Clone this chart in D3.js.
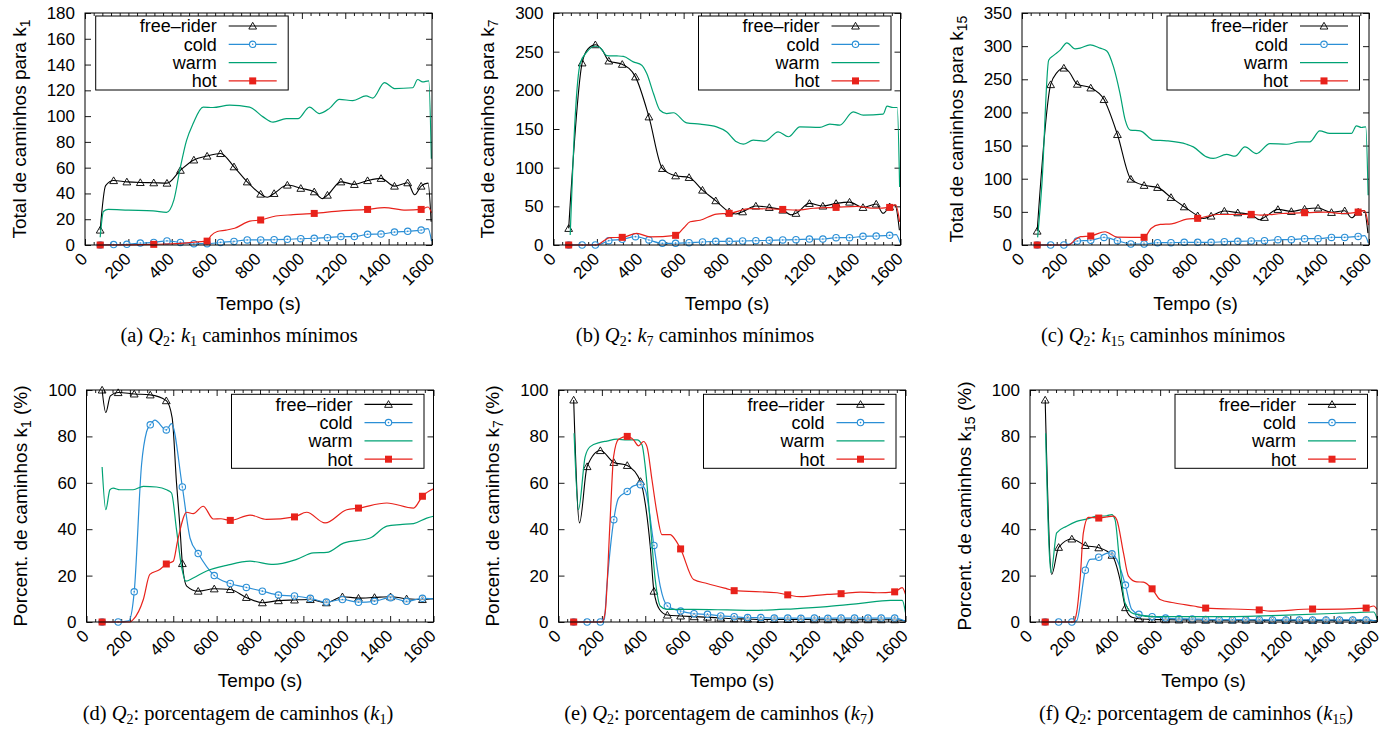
<!DOCTYPE html>
<html><head><meta charset="utf-8">
<script src="https://cdn.jsdelivr.net/npm/d3@7"></script>
<style>body{margin:0;background:#fff} svg{display:block}</style>
</head><body>
<svg id="c" width="1390" height="730"></svg>
<script>
// ---------- categories / ticks ----------
const seriesNames = ["free–rider", "cold", "warm", "hot"];
const xTicks = [0, 200, 400, 600, 800, 1000, 1200, 1400, 1600];
const markT25 = [70,132,193,255,317,378,440,502,563,625,687,748,810,872,933,995,1057,1118,1180,1242,1303,1365,1427,1488,1550];
const hotT25 = [70,317,563,810,1057,1303,1550];
const markT21 = [72,146,220,294,368,442,515,589,663,737,811,885,959,1032,1106,1180,1254,1328,1402,1476,1549];
const hotT21 = [72,368,663,959,1254,1549];

// ---------- (a) total k1 ----------
const aFree = [11.6,50,49,48.5,48.3,48,58,66,69,71,60.7,49,39.5,40,46.5,44,41.3,38.7,49,47,50,51.7,45.7,48.3,45.7];
const aFreeX = [[95,46],[840,37],[1095,36],[1520,39],[1582,48],[1596,18]];
const aCold = [0,0.3,0.5,1.5,2,3.2,2,1,1,2,2.8,3.9,3.9,4.1,4.4,4.9,5.2,5.7,6.5,6.5,8.3,8.5,10,10.6,11.6];
const aColdX = [[1582,12.7],[1598,3]];
const aWarm = [[70,6],[85,26],[107,27.6],[200,27],[314,26.5],[376,25.3],[410,35],[437,58],[468,81],[498,94],[545,107],[590,106.7],[667,108.5],[759,107],[821,99.4],[867,95.3],[928,98],[982,98],[1035,107],[1081,102],[1127,106],[1173,113],[1235,112],[1296,115.7],[1327,114],[1381,126],[1427,121.4],[1511,122],[1534,128.4],[1557,126.5],[1585,127.3],[1597,67]];
const aHot = [0,0.5,3,19.4,24.5,27.6,27.6];
const aHotX = [[440,1.2],[520,2.5],[580,7],[610,10.5],[650,11.5],[690,13],[760,18.5],[880,22.5],[960,23.5],[1180,26.5],[1380,29],[1480,27],[1582,29.5],[1598,25]];

// ---------- (b) total k7 ----------
const bFree = [21.5,235.5,259,238,233.7,217.4,165.7,99,89.5,87.4,71,57.3,43,43,50.4,48.6,45.2,41,53.8,50.4,53.8,55.5,48.6,53,49.5];
const bFreeX = [[160,254],[225,252],[840,40],[1095,39],[1520,41],[1575,51.6],[1595,19]];
const bCold = [0,0,0,5.6,7.3,10.8,6.5,2.2,2.2,3,3.9,4.7,4.7,5.2,5.6,6,6.5,6.9,7.7,7.7,9.5,9.5,11.2,11.6,12.5];
const bColdX = [[215,1],[1580,13.5],[1598,3]];
const bWarm = [[77,13],[100,166],[123,234.6],[154,249.7],[192,257],[215,255],[246,245],[292,244.5],[322,244],[368,236.8],[407,232.5],[430,221.7],[461,195.9],[491,174.3],[522,170],[553,171],[614,158],[676,156.3],[752,152.8],[798,146.4],[844,133.4],[875,130.4],[921,135.6],[975,134.3],[1036,146.4],[1083,140],[1136,152.8],[1228,152],[1274,156.3],[1320,155],[1382,172.2],[1428,168],[1520,169.2],[1538,179.5],[1566,177.8],[1585,177.8],[1596,75]];
const bHot = [0,9.9,12.5,40.9,46,48.6,48.6];
const bHotX = [[200,0],[230,5],[260,9.5],[384,15],[445,10.5],[600,22],[630,30],[676,32],[752,40],[906,47],[1120,45],[1200,47.5],[1397,50],[1480,47.5],[1578,52],[1596,30]];

// ---------- (c) total k15 ----------
const cFree = [21,242,267,242.6,237,219.5,166.7,99.4,90,86.9,71.8,57.7,44.2,43.7,51.2,48.7,45.7,41.7,53.7,50.7,54.2,55.8,49.2,51.7,49.7];
const cFreeX = [[161,260],[215,262],[835,40],[1095,38],[1520,41],[1578,52],[1595,18]];
const cCold = [0,0,0,6,7,11.5,6.5,1.5,1.5,3.5,3.5,4,4,4,5,5.5,6,6.5,8,8,9.5,9.5,11.5,11.5,13];
const cColdX = [[215,1],[1580,14],[1597,3]];
const cWarm = [[72,11.5],[92,93],[123,278.7],[146,286],[176,294],[207,305],[245,296],[268,297],[314,302],[360,297],[391,292.8],[422,268.7],[452,228.5],[476,188.3],[499,173.3],[545,172.3],[606,158.2],[667,157.2],[759,152],[790,148],[851,133],[882,130.6],[943,136.6],[982,134],[1028,148],[1081,138],[1143,153],[1220,152],[1281,155.7],[1327,155.7],[1373,172.2],[1419,168.3],[1519,168.3],[1542,179.8],[1565,177.3],[1585,178.3],[1596,75]];
const cHot = [0,13.6,11.6,40.2,46.2,48.7,49.7];
const cHotX = [[215,0],[245,8],[270,12.5],[383,20],[440,12],[595,25],[637,31],[690,32],[760,39],[900,46],[1100,45],[1200,47.5],[1400,49.5],[1480,47.5],[1580,52],[1597,30]];

// ---------- (d) percent k1 ----------
const dFree = [100,98.9,98.3,97.9,95.4,25.2,13.3,14.3,14,10.6,8.3,9.2,9.5,9.7,8.3,10.9,10.3,10.6,10.9,10,9.7];
const dFreeX = [[89,90.3],[110,97.5],[395,88],[415,60],[430,42],[462,15.5],[1600,10]];
const dCold = [0,0,13,85,82.8,58.2,29.5,20,16.6,14.9,13.3,11.6,11.2,10.2,8.6,9.7,8.5,8.9,10.5,8.9,10.2];
const dColdX = [[195,0.5],[254,68],[277,82],[315,87],[392,85.5],[478,36],[1600,10]];
const dWarm = [[72,66.8],[89,48.4],[108,57],[123,57.7],[154,57],[215,57],[262,58.5],[323,58.2],[369,57],[392,55.6],[415,39.8],[438,24],[458,17.6],[492,19],[554,22],[646,24.4],[754,26.2],[862,24.8],[969,27],[1046,29.8],[1108,30],[1185,34],[1308,36.2],[1385,41.3],[1446,42],[1508,42.4],[1569,44.8],[1600,45.6]];
const dHot = [0,25,43.8,45.3,49.1,54.2];
const dHotX = [[200,0],[215,1],[262,9.7],[292,20.5],[338,22.6],[400,26.2],[420,35],[462,47.3],[492,46.7],[538,49.9],[585,44.4],[620,44.5],[754,46.1],[830,44.2],[1015,47.3],[1100,42.7],[1200,48.4],[1385,51.3],[1508,49.1],[1600,57.4]];

// ---------- (e) percent k7 ----------
const eFree = [95.7,67,73.9,68.8,67.5,60.6,13.3,3,2.6,2.3,2.1,1.7,1.4,1.3,1.1,1.1,1.1,1.1,1,1,1,1,1,1,1];
const eFreeX = [[97,42.7],[400,51],[423,32.7],[466,5.4],[1600,0.5]];
const eCold = [0,0,0,44.1,56.3,59.2,33,6.9,4.7,3.6,3.3,2.6,2.3,1.9,1.9,1.7,1.7,1.6,1.7,1.6,1.7,1.7,1.7,1.7,1.7];
const eColdX = [[211,1],[223,15.5],[277,53.4],[346,58.7],[400,57],[469,15.5],[1600,0.3]];
const eWarm = [[72,81.4],[92,48.4],[123,71.3],[146,75.6],[192,77.4],[223,78],[269,78.8],[315,78.5],[362,78.5],[385,76.4],[400,67],[423,42.7],[446,18.3],[469,6.9],[500,5.4],[623,5.4],[777,5.2],[900,5],[1085,5.7],[1238,6.6],[1392,8],[1531,9.3],[1585,9.3],[1600,4]];
const eHot = [0,80,31.5,13.5,11.7,12.2,13];
const eHotX = [[200,0],[215,4],[238,44],[254,71.3],[277,78.8],[346,78.5],[369,75.9],[392,77.8],[408,75.6],[431,61.3],[454,47],[477,37.7],[515,37.7],[538,35.5],[623,18.3],[685,16.6],[777,14.3],[1008,12.6],[1115,10.9],[1238,11.9],[1392,12.9],[1469,12.6],[1585,14.8],[1600,11.9]];

// ---------- (f) percent k15 ----------
const fFree = [95.7,32.2,35.8,33,32,28.8,6.2,1.4,1.1,1,0.9,0.9,0.8,0.8,0.8,0.8,0.7,0.7,0.7,0.7,0.7,0.7,0.7,0.7,0.7];
const fFreeX = [[100,20.5],[415,18.3],[470,2],[1600,0.5]];
const fCold = [0,0,0,22.3,27.9,29.4,15.9,3.3,2.3,1.7,1.4,1.3,1.1,1,1,1,1,0.9,0.9,0.9,0.9,0.9,0.9,0.9,0.9];
const fColdX = [[215,0.5],[277,27],[300,27.2],[362,29.8],[400,27],[469,5.4],[1600,0.3]];
const fWarm = [[72,81.4],[97,21.2],[123,38.4],[169,41.3],[215,43.4],[262,44.4],[308,45.6],[354,45.8],[377,46.3],[392,44.1],[415,24],[438,8.3],[477,3.6],[569,2.3],[877,2.3],[1185,3],[1492,4],[1585,4.3],[1600,1.4]];
const fHot = [0,44.8,14.3,6,5.2,5.6,6];
const fHotX = [[200,0],[215,4],[231,18.3],[246,38.4],[269,45.1],[354,45.3],[385,45.6],[400,44.1],[431,29.8],[454,19.8],[492,17.3],[523,17.2],[600,9.7],[662,8.3],[754,6.9],[1108,4.7],[1338,5.4],[1585,6.9],[1600,5.4]];

// ---------- layout (not data) ----------
const W = 347, H = 232;
const colors = {fr:"#000000", cold:"#2b8fd6", warm:"#00a274", hot:"#e8221b"};
const SANS = "'Liberation Sans', Arial, Helvetica, sans-serif";
const SERIF = "'Liberation Serif', 'Times New Roman', serif";

const panels = [
  {left:85, top:13, yMax:180, yStep:20, ySub:"1", pct:false, leg:"left", grid:markT25, hgrid:hotT25,
   fr:aFree, frX:aFreeX, cold:aCold, coldX:aColdX, warm:aWarm, hot:aHot, hotX:aHotX,
   cap:["(a) ","Q","2",": ","k","1"," caminhos mínimos"], capX:239, capY:342},
  {left:553.5, top:13, yMax:300, yStep:50, ySub:"7", pct:false, leg:"right", grid:markT25, hgrid:hotT25,
   fr:bFree, frX:bFreeX, cold:bCold, coldX:bColdX, warm:bWarm, hot:bHot, hotX:bHotX,
   cap:["(b) ","Q","2",": ","k","7"," caminhos mínimos"], capX:695, capY:342},
  {left:1022, top:13, yMax:350, yStep:50, ySub:"15", pct:false, leg:"right", grid:markT25, hgrid:hotT25,
   fr:cFree, frX:cFreeX, cold:cCold, coldX:cColdX, warm:cWarm, hot:cHot, hotX:cHotX,
   cap:["(c) ","Q","2",": ","k","15"," caminhos mínimos"], capX:1163, capY:342},
  {left:86.5, top:390, yMax:100, yStep:20, ySub:"1", pct:true, leg:"right", grid:markT21, hgrid:hotT21,
   fr:dFree, frX:dFreeX, cold:dCold, coldX:dColdX, warm:dWarm, hot:dHot, hotX:dHotX,
   cap:["(d) ","Q","2",": porcentagem de caminhos (","k","1",")"], capX:238, capY:720},
  {left:558.5, top:390, yMax:100, yStep:20, ySub:"7", pct:true, leg:"right", grid:markT25, hgrid:hotT25,
   fr:eFree, frX:eFreeX, cold:eCold, coldX:eColdX, warm:eWarm, hot:eHot, hotX:eHotX,
   cap:["(e) ","Q","2",": porcentagem de caminhos (","k","7",")"], capX:719, capY:720},
  {left:1030, top:390, yMax:100, yStep:20, ySub:"15", pct:true, leg:"right", grid:markT25, hgrid:hotT25,
   fr:fFree, frX:fFreeX, cold:fCold, coldX:fColdX, warm:fWarm, hot:fHot, hotX:fHotX,
   cap:["(f) ","Q","2",": porcentagem de caminhos (","k","15",")"], capX:1196, capY:720}
];

const svg = d3.select("#c");

function merge(grid, vals, extra) {
  return grid.map((t, i) => [t, vals[i]]).concat(extra || []).sort((a, b) => a[0] - b[0]);
}

panels.forEach(p => {
  const g = svg.append("g").attr("transform", `translate(${p.left},${p.top})`);
  const x = d3.scaleLinear().domain([0, 1600]).range([0, W]);
  const y = d3.scaleLinear().domain([0, p.yMax]).range([H, 0]);
  const yTicks = d3.range(0, p.yMax + 0.001, p.yStep);
  const xMinor = d3.range(0, 1601, 40).filter(v => v % 200 !== 0);
  const fmt = d3.format("d");

  const bx = g.append("g").attr("transform", `translate(0,${H})`)
    .call(d3.axisBottom(x).tickValues(xTicks).tickFormat(fmt).tickSize(-6).tickSizeOuter(0));
  bx.select(".domain").remove();
  bx.selectAll("text").attr("x", null).attr("y", null).attr("dy", null)
    .attr("text-anchor", "end").attr("transform", "translate(3,15) rotate(-45)")
    .style("font-family", SANS).style("font-size", "17px").attr("fill", "#000");
  const bm = g.append("g").attr("transform", `translate(0,${H})`)
    .call(d3.axisBottom(x).tickValues(xMinor).tickSize(-3).tickFormat(""));
  bm.select(".domain").remove();
  const tx = g.append("g").call(d3.axisTop(x).tickValues(xTicks).tickSize(-6).tickFormat(""));
  tx.select(".domain").remove();
  const tm = g.append("g").call(d3.axisTop(x).tickValues(xMinor).tickSize(-3).tickFormat(""));
  tm.select(".domain").remove();
  const ly = g.append("g").call(d3.axisLeft(y).tickValues(yTicks).tickFormat(fmt).tickSize(-6).tickPadding(10).tickSizeOuter(0));
  ly.select(".domain").remove();
  ly.selectAll("text").style("font-family", SANS).style("font-size", "17px").attr("fill", "#000");
  const ry = g.append("g").attr("transform", `translate(${W},0)`)
    .call(d3.axisRight(y).tickValues(yTicks).tickSize(-6).tickFormat(""));
  ry.select(".domain").remove();
  g.selectAll(".tick line").attr("stroke", "#000").attr("stroke-width", 0.9);

  const line = d3.line().x(d => x(d[0])).y(d => y(d[1])).curve(d3.curveMonotoneX);
  const frPts = merge(p.grid, p.fr, p.frX);
  const coldPts = merge(p.grid, p.cold, p.coldX);
  const hotPts = merge(p.hgrid, p.hot, p.hotX);
  const plot = g.append("g");
  plot.append("path").attr("d", line(frPts)).attr("fill", "none").attr("stroke", colors.fr).attr("stroke-width", 1.1);
  plot.selectAll(".trm").data(p.grid.map((t, i) => [t, p.fr[i]])).enter().append("path")
    .attr("d", d3.symbol(d3.symbolTriangle, 26)())
    .attr("transform", d => `translate(${x(d[0])},${y(d[1]) + 0.8})`)
    .attr("fill", "none").attr("stroke", colors.fr).attr("stroke-width", 0.9);
  plot.append("path").attr("d", line(coldPts)).attr("fill", "none").attr("stroke", colors.cold).attr("stroke-width", 1.2);
  const cm = plot.selectAll(".cm").data(p.grid.map((t, i) => [t, p.cold[i]])).enter().append("g")
    .attr("transform", d => `translate(${x(d[0])},${y(d[1])})`);
  cm.append("circle").attr("r", 3.2).attr("fill", "#fff").attr("fill-opacity", 0.6).attr("stroke", colors.cold).attr("stroke-width", 1.1);
  cm.append("circle").attr("r", 0.8).attr("fill", colors.cold);
  plot.append("path").attr("d", line(p.warm)).attr("fill", "none").attr("stroke", colors.warm).attr("stroke-width", 1.2);
  plot.append("path").attr("d", line(hotPts)).attr("fill", "none").attr("stroke", colors.hot).attr("stroke-width", 1.2);
  plot.selectAll(".hm").data(p.hgrid.map((t, i) => [t, p.hot[i]])).enter().append("rect")
    .attr("x", d => x(d[0]) - 3.5).attr("y", d => y(d[1]) - 3.5).attr("width", 7).attr("height", 7)
    .attr("fill", colors.hot);

  g.append("rect").attr("width", W).attr("height", H).attr("fill", "none").attr("stroke", "#000").attr("stroke-width", 1);

  const LW = 192.5, LH = 74;
  const lx = p.leg === "left" ? 10.7 : W - 9.5 - LW;
  const lg = g.append("g").attr("transform", `translate(${lx},${p.pct ? 4.3 : 3})`);
  lg.append("rect").attr("width", LW).attr("height", LH).attr("fill", "#fff").attr("stroke", "#000").attr("stroke-width", 1);
  const legCols = [colors.fr, colors.cold, colors.warm, colors.hot];
  seriesNames.forEach((name, i) => {
    const cy = 10 + i * 18.3;
    lg.append("text").attr("x", 121).attr("y", cy).attr("dy", "0.36em").attr("text-anchor", "end")
      .style("font-family", SANS).style("font-size", "18px").text(name);
    lg.append("line").attr("x1", 133).attr("x2", 181).attr("y1", cy).attr("y2", cy)
      .attr("stroke", legCols[i]).attr("stroke-width", 1.2);
    if (i === 0) lg.append("path").attr("d", d3.symbol(d3.symbolTriangle, 26)())
      .attr("transform", `translate(157,${cy + 0.8})`).attr("fill", "none").attr("stroke", "#000").attr("stroke-width", 0.9);
    if (i === 1) { lg.append("circle").attr("cx", 157).attr("cy", cy).attr("r", 3.2).attr("fill", "#fff").attr("stroke", colors.cold).attr("stroke-width", 1.1);
      lg.append("circle").attr("cx", 157).attr("cy", cy).attr("r", 0.8).attr("fill", colors.cold); }
    if (i === 3) lg.append("rect").attr("x", 153.5).attr("y", cy - 3.5).attr("width", 7).attr("height", 7).attr("fill", colors.hot);
  });

  const yt = g.append("text").attr("transform", `translate(-66,${H / 2}) rotate(-90)`)
    .attr("text-anchor", "middle").attr("dy", "0.35em")
    .style("font-family", SANS).style("font-size", "19px");
  if (p.pct) {
    yt.append("tspan").text("Porcent. de caminhos k");
    yt.append("tspan").attr("dy", 4).style("font-size", "14px").text(p.ySub);
    yt.append("tspan").attr("dy", -4).text(" (%)");
  } else {
    yt.append("tspan").text("Total de caminhos para k");
    yt.append("tspan").attr("dy", 4).style("font-size", "14px").text(p.ySub);
  }
  g.append("text").attr("x", W / 2).attr("y", H + 65).attr("text-anchor", "middle")
    .style("font-family", SANS).style("font-size", "19px").text("Tempo (s)");

  const ct = svg.append("text").attr("x", p.capX).attr("y", p.capY).attr("text-anchor", "middle")
    .style("font-family", SERIF).style("font-size", "20.5px");
  p.cap.forEach((s, i) => {
    const ts = ct.append("tspan").text(s);
    if (i === 1 || i === 4) ts.style("font-style", "italic");
    if (i === 2 || i === 5) ts.attr("dy", 3.5).style("font-size", "14px");
    if (i === 3 || i === 6) ts.attr("dy", -3.5);
  });
});
</script>
</body></html>
